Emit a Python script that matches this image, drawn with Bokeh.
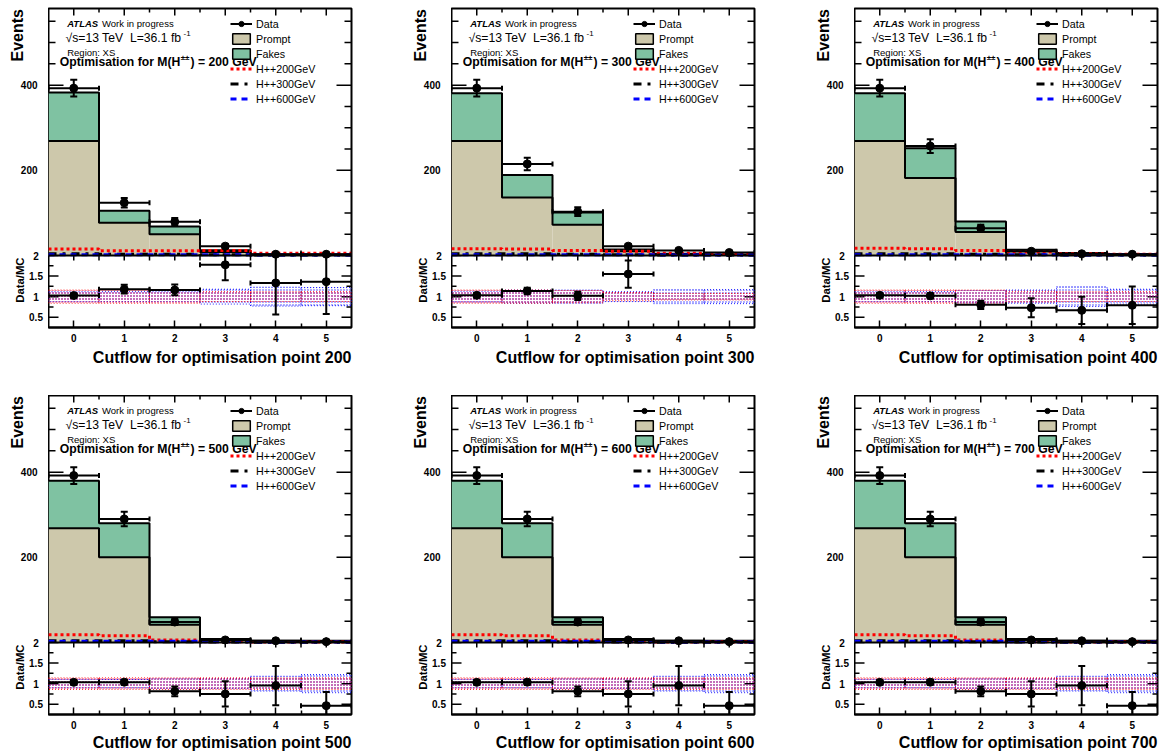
import numpy as np
from bokeh.plotting import figure
from bokeh.models import (Range1d, LinearAxis, FixedTicker, Label, Span, Legend,
                          LegendItem, Title)
from bokeh.core.properties import value
from bokeh.layouts import row, column
from bokeh.embed import file_html
from bokeh.resources import INLINE

# ---------------- data ----------------
bin_centers = [0, 1, 2, 3, 4, 5]
bin_edges = [-0.5, 0.5, 1.5, 2.5, 3.5, 4.5, 5.5]
opt_points = [200, 300, 400, 500, 600, 700]
x_ticks = [0, 1, 2, 3, 4, 5]
x_minor_ticks = [0.5, 1.5, 2.5, 3.5, 4.5]
events_ticks = [200, 400]
events_labels = ["200", "400"]
events_minor = [50, 100, 150, 250, 300, 350, 450, 500, 550]
ratio_ticks = [0.5, 1.0, 1.5, 2.0]
ratio_labels = ["0.5", "1", "1.5", "2"]
ratio_minor = [0.75, 1.25, 1.75]

data_200 = [393, 124, 79, 22, 3, 3]
prompt_200 = [269, 77, 50, 8.0, 1.5, 1.5]
fakes_200 = [114, 28, 18, 4.4, 0.75, 0.7]
hpp200_200 = [15, 11, 11, 12, 5, 5]
hpp300_200 = [4, 3, 3, 2, 1, 1]
hpp600_200 = [2, 2, 2, 1.5, 1, 1]
band_red_200 = [0.16, 0.16, 0.16, 0.12, 0.12, 0.12]
band_blue_200 = [0.12, 0.12, 0.12, 0.18, 0.23, 0.22]

data_300 = [393, 215, 103, 22, 12, 7]
prompt_300 = [269, 136, 72, 10, 3, 1.5]
fakes_300 = [112, 53, 29, 4.2, 1, 0.5]
hpp200_300 = [16, 15, 12, 10, 5, 4]
hpp300_300 = [4, 4, 3, 2, 1, 1]
hpp600_300 = [2, 2, 2, 1.5, 1, 1]
band_red_300 = [0.16, 0.16, 0.15, 0.10, 0.08, 0.08]
band_blue_300 = [0.13, 0.16, 0.16, 0.12, 0.17, 0.17]

data_400 = [393, 257, 64, 10, 4, 3]
prompt_400 = [269, 182, 55, 10, 4.5, 3]
fakes_400 = [112, 70, 25, 3.7, 1.5, 0.8]
hpp200_400 = [17, 16, 12, 8, 4, 3]
hpp300_400 = [4, 4, 3, 2, 1, 1]
hpp600_400 = [2, 2, 2, 2, 1, 1]
band_red_400 = [0.16, 0.16, 0.16, 0.13, 0.12, 0.12]
band_blue_400 = [0.12, 0.12, 0.15, 0.16, 0.24, 0.18]

data_500 = [392, 290, 48, 6, 4, 2]
prompt_500 = [268, 200, 41.5, 6, 3, 3.3]
fakes_500 = [112, 80, 17.5, 2, 1.2, 1]
hpp200_500 = [18, 16, 6, 2, 1, 1]
hpp300_500 = [4, 4, 2, 1, 0.5, 0.5]
hpp600_500 = [3, 3, 3, 2, 1, 1]
band_red_500 = [0.14, 0.14, 0.14, 0.14, 0.14, 0.14]
band_blue_500 = [0.10, 0.10, 0.12, 0.12, 0.18, 0.22]

data_600 = [392, 290, 48, 6, 4, 2]
prompt_600 = [268, 200, 41.5, 6, 3, 3.3]
fakes_600 = [112, 80, 17.5, 2, 1.2, 1]
hpp200_600 = [18, 16, 6, 2, 1, 1]
hpp300_600 = [4, 4, 2, 1, 0.5, 0.5]
hpp600_600 = [3, 3, 3, 2, 1, 1]
band_red_600 = [0.14, 0.14, 0.14, 0.14, 0.14, 0.14]
band_blue_600 = [0.10, 0.10, 0.12, 0.12, 0.18, 0.22]

data_700 = [392, 290, 48, 6, 4, 2]
prompt_700 = [268, 200, 41.5, 6, 3, 3.3]
fakes_700 = [112, 80, 17.5, 2, 1.2, 1]
hpp200_700 = [18, 16, 6, 2, 1, 1]
hpp300_700 = [4, 4, 2, 1, 0.5, 0.5]
hpp600_700 = [3, 3, 3, 2, 1, 1]
band_red_700 = [0.14, 0.14, 0.14, 0.14, 0.14, 0.14]
band_blue_700 = [0.10, 0.10, 0.12, 0.12, 0.18, 0.22]

PANELS = {
    200: (data_200, prompt_200, fakes_200, hpp200_200, hpp300_200, hpp600_200, band_red_200, band_blue_200),
    300: (data_300, prompt_300, fakes_300, hpp200_300, hpp300_300, hpp600_300, band_red_300, band_blue_300),
    400: (data_400, prompt_400, fakes_400, hpp200_400, hpp300_400, hpp600_400, band_red_400, band_blue_400),
    500: (data_500, prompt_500, fakes_500, hpp200_500, hpp300_500, hpp600_500, band_red_500, band_blue_500),
    600: (data_600, prompt_600, fakes_600, hpp200_600, hpp300_600, hpp600_600, band_red_600, band_blue_600),
    700: (data_700, prompt_700, fakes_700, hpp200_700, hpp300_700, hpp600_700, band_red_700, band_blue_700),
}

# ---------------- geometry / style ----------------
TAN = "#cdc8ab"
GREEN = "#7fc2a2"
FONT = "Liberation Sans"

FW = 303          # frame width (px)
HM = 247          # main pad height (px)
HR = 72           # ratio pad height (px)
YMAX = 580.0
KM = YMAX / HM    # events per px
YMIN = -HR * KM
R_LO = 0.25
KR = (2.0 - R_LO) / HR
R_HI = 2.0 + HM * KR


def xpx(px):
    return -0.5 + px * 6.0 / FW


def ypx(py):
    return YMAX - py * KM


def step_y(vals):
    return list(vals) + [vals[-1]]


def add_text(p, x, y, text, size, style="normal", align="left", angle=0.0, y_range_name="default"):
    p.add_layout(Label(x=x, y=y, text=text, text_font=FONT, text_font_size=size,
                       text_font_style=style, text_align=align, text_baseline="middle",
                       angle=angle, text_color="black", y_range_name=y_range_name,
                       background_fill_color=None, border_line_color=None))


def glyph_text(p, xs, ys, texts, size, align, angle=0.0, y_range_name="default"):
    p.text(x=xs, y=ys, text=texts, y_range_name=y_range_name, angle=angle,
           text_font=value(FONT), text_font_style="bold", text_font_size=size,
           text_align=align, text_baseline="middle", text_color="black")


def ticks(p, xs, ys, size, angle, y_range_name="default"):
    p.scatter(x=xs, y=ys, marker="dash", size=size, angle=angle, line_color="black",
              line_width=1.5, y_range_name=y_range_name)


def make_side(W, tb, bb):
    """narrow figure holding the y tick labels and the y titles"""
    t = figure(frame_width=W, frame_height=HM + HR, x_range=Range1d(0, W),
               y_range=Range1d(YMIN, YMAX), output_backend="svg", toolbar_location=None,
               x_axis_location=None, y_axis_location=None,
               min_border_left=0, min_border_right=0, min_border_top=tb, min_border_bottom=bb,
               outline_line_color=None, background_fill_color="white", border_fill_color="white")
    t.extra_y_ranges = {"ratio": Range1d(R_LO, R_HI)}
    t.xgrid.visible = False
    t.ygrid.visible = False
    glyph_text(t, [W - 31], [YMAX - 0.5 * KM], ["Events"], "16px", "right", np.pi / 2)
    glyph_text(t, [W - 28.5], [2.0 - 2 * KR], ["Data/MC"], "11.3px", "right", np.pi / 2,
               "ratio")
    glyph_text(t, [W - 11] * len(events_ticks), events_ticks, events_labels, "10px", "right")
    glyph_text(t, [W - 12.5] * len(ratio_ticks), ratio_ticks, ratio_labels, "10px", "center",
               0.0, "ratio")
    return t


def make_panel(mp, rb, tb, bb, title_standoff):
    data, prompt, fakes, h200, h300, h600, band_red, band_blue = PANELS[mp]
    data = np.array(data, dtype=float)
    prompt = np.array(prompt, dtype=float)
    fakes = np.array(fakes, dtype=float)
    total = prompt + fakes
    left = bin_edges[:-1]
    right = bin_edges[1:]

    p = figure(frame_width=FW, frame_height=HM + HR,
               x_range=Range1d(-0.5, 5.5), y_range=Range1d(YMIN, YMAX),
               output_backend="svg", toolbar_location=None,
               x_axis_location=None, y_axis_location=None,
               min_border_left=0, min_border_right=rb,
               min_border_top=tb, min_border_bottom=bb,
               outline_line_color="black", outline_line_width=2,
               background_fill_color="white", border_fill_color="white")
    p.extra_y_ranges = {"ratio": Range1d(R_LO, R_HI)}
    p.xgrid.visible = False
    p.ygrid.visible = False

    # bottom axis (labels, inside ticks)
    xb = LinearAxis(ticker=FixedTicker(ticks=x_ticks, minor_ticks=x_minor_ticks))
    xb.axis_line_color = "black"
    xb.axis_line_width = 2
    xb.major_tick_out = 0
    xb.minor_tick_out = 0
    xb.major_tick_in = 7
    xb.minor_tick_in = 4
    xb.major_tick_line_width = 1.5
    xb.minor_tick_line_width = 1.5
    xb.major_label_text_font = FONT
    xb.major_label_text_font_style = "bold"
    xb.major_label_text_font_size = "10px"
    xb.major_label_text_color = "black"
    xb.major_label_standoff = 6
    p.add_layout(xb, "below")
    p.add_layout(Title(text="Cutflow for optimisation point %d" % mp, align="right",
                       text_font=FONT, text_font_size="16px", text_font_style="bold",
                       text_color="black", standoff=title_standoff), "below")

    # inside ticks on the other frame edges
    n_x, n_xm = len(x_ticks), len(x_minor_ticks)
    ticks(p, x_ticks, [YMAX] * n_x, 14, np.pi / 2)
    ticks(p, x_minor_ticks, [YMAX] * n_xm, 8, np.pi / 2)
    ticks(p, x_ticks + x_minor_ticks, [0] * (n_x + n_xm), 10, np.pi / 2)
    for edge in (-0.5, 5.5):
        ticks(p, [edge] * len(events_ticks), events_ticks, 30, 0)
        ticks(p, [edge] * len(events_minor), events_minor, 14, 0)
        ticks(p, [edge] * len(ratio_ticks), ratio_ticks, 20, 0, "ratio")
        ticks(p, [edge] * len(ratio_minor), ratio_minor, 10, 0, "ratio")

    # ---------- ratio pad ----------
    p.quad(left=left, right=right,
           bottom=[1 - w for w in band_blue], top=[1 + w for w in band_blue],
           y_range_name="ratio", fill_alpha=0, line_color="blue", line_dash="1 2",
           line_width=1, line_alpha=0.9,
           hatch_pattern="dot", hatch_color="#1010ff", hatch_alpha=0.85, hatch_scale=3,
           hatch_weight=1.6)
    p.quad(left=left, right=right,
           bottom=[1 - w for w in band_red], top=[1 + w for w in band_red],
           y_range_name="ratio", fill_alpha=0, line_color="red", line_dash="1 2",
           line_width=1, line_alpha=0.9,
           hatch_pattern="dot", hatch_color="#e8003c", hatch_alpha=0.9, hatch_scale=3,
           hatch_weight=1.6)

    ratio = data / total
    rerr = np.sqrt(data) / total
    keep = ratio <= 2.0
    rc = [c for c, k in zip(bin_centers, keep) if k]
    rl = [v for v, k in zip(left, keep) if k]
    rrgt = [v for v, k in zip(right, keep) if k]
    rv = ratio[keep]
    re = rerr[keep]
    rlo = rv - re
    rhi = np.minimum(rv + re, 2.0)
    p.segment(x0=rl, x1=rrgt, y0=rv, y1=rv, y_range_name="ratio", line_color="black", line_width=2)
    p.segment(x0=rc, x1=rc, y0=rlo, y1=rhi, y_range_name="ratio", line_color="black", line_width=2)
    cap_x = list(rc) + [c for c, h in zip(rc, rv + re) if h <= 2.0]
    cap_y = list(rlo) + [h for h in (rv + re) if h <= 2.0]
    p.scatter(x=cap_x, y=cap_y, y_range_name="ratio", marker="dash", size=7,
              line_color="black", line_width=2)
    p.scatter(x=rl + rrgt, y=list(rv) + list(rv), y_range_name="ratio", marker="dash",
              angle=np.pi / 2, size=5, line_color="black", line_width=2)
    p.scatter(x=rc, y=rv, y_range_name="ratio", marker="circle", size=8,
              fill_color="black", line_color="black")

    # ---------- main pad ----------
    p.quad(left=left, right=right, bottom=0, top=prompt, fill_color=TAN, line_color=None)
    p.quad(left=left, right=right, bottom=prompt, top=total, fill_color=GREEN, line_color=None)
    p.step(x=bin_edges, y=step_y(total), mode="after", line_color="black", line_width=2)
    p.step(x=bin_edges, y=step_y(prompt), mode="after", line_color="black", line_width=2)

    r200 = p.step(x=bin_edges, y=step_y(h200), mode="after", line_color="red",
                  line_width=3, line_dash="3 3")
    r300 = p.step(x=bin_edges, y=step_y(h300), mode="after", line_color="black",
                  line_width=3, line_dash="8 6 3 6")
    r600 = p.step(x=bin_edges, y=step_y(h600), mode="after", line_color="blue",
                  line_width=3, line_dash="6 5")

    derr = np.sqrt(data)
    hseg = p.segment(x0=left, x1=right, y0=data, y1=data, line_color="black", line_width=2)
    p.segment(x0=bin_centers, x1=bin_centers, y0=data - derr, y1=data + derr,
              line_color="black", line_width=2)
    p.scatter(x=bin_centers + bin_centers, y=list(data - derr) + list(data + derr),
              marker="dash", size=7, line_color="black", line_width=2)
    p.scatter(x=left + right, y=list(data) + list(data), marker="dash", angle=np.pi / 2,
              size=5, line_color="black", line_width=2)
    pts = p.scatter(x=bin_centers, y=data, marker="circle", size=8,
                    fill_color="black", line_color="black")

    # separator between main and ratio pads
    p.add_layout(Span(location=0, dimension="width", line_color="black", line_width=2))

    # legend (legend-only renderers for the filled boxes)
    dprompt = p.quad(left=[np.nan], right=[np.nan], top=[np.nan], bottom=[np.nan],
                     fill_color=TAN, line_color="black", line_width=1.5)
    dfakes = p.quad(left=[np.nan], right=[np.nan], top=[np.nan], bottom=[np.nan],
                    fill_color=GREEN, line_color="black", line_width=1.5)
    leg = Legend(items=[
        LegendItem(label="Data", renderers=[hseg, pts]),
        LegendItem(label="Prompt", renderers=[dprompt]),
        LegendItem(label="Fakes", renderers=[dfakes]),
        LegendItem(label="H++200GeV", renderers=[r200]),
        LegendItem(label="H++300GeV", renderers=[r300]),
        LegendItem(label="H++600GeV", renderers=[r600]),
    ], location=(182, HM + HR - 9 - 88), glyph_width=22, glyph_height=13, label_height=13,
        spacing=2, padding=0, margin=0, label_standoff=4,
        border_line_color=None, background_fill_alpha=0.0,
        label_text_font=FONT, label_text_font_size="10.7px", label_text_color="black")
    p.add_layout(leg)

    # texts inside the main pad
    add_text(p, xpx(18.7), ypx(14.7), "ATLAS", "9.5px", "bold italic")
    add_text(p, xpx(53.5), ypx(14.7), "Work in progress", "9.5px")
    add_text(p, xpx(17.0), ypx(29.5), "√s=13 TeV\u00a0 L=36.1 fb", "12.2px")
    add_text(p, xpx(135.0), ypx(25.0), "-1", "8px")
    add_text(p, xpx(18.7), ypx(43.7), "Region: XS", "9.5px")
    add_text(p, xpx(11.3), ypx(53.5), "Optimisation for M(H", "12.2px", "bold")
    add_text(p, xpx(132.2), ypx(48.5), "±±", "8px", "bold")
    add_text(p, xpx(142.0), ypx(53.5), ") = %d GeV" % mp, "12.2px", "bold")
    return p


rows = []
for r in range(2):
    tb = 8 if r == 0 else 0
    bb = 68 if r == 0 else 40
    t_stand = 4 if r == 0 else 0
    children = []
    for c in range(3):
        mp = opt_points[3 * r + c]
        side_w = 48 if c == 0 else 40
        rb = 60 if c < 2 else 8
        children.append(make_side(side_w, tb, bb))
        children.append(make_panel(mp, rb, tb, bb, t_stand))
    rows.append(row(*children))

layout = column(*rows)
open("out.html", "w").write(file_html(layout, INLINE, title="Cutflow optimisation"))
